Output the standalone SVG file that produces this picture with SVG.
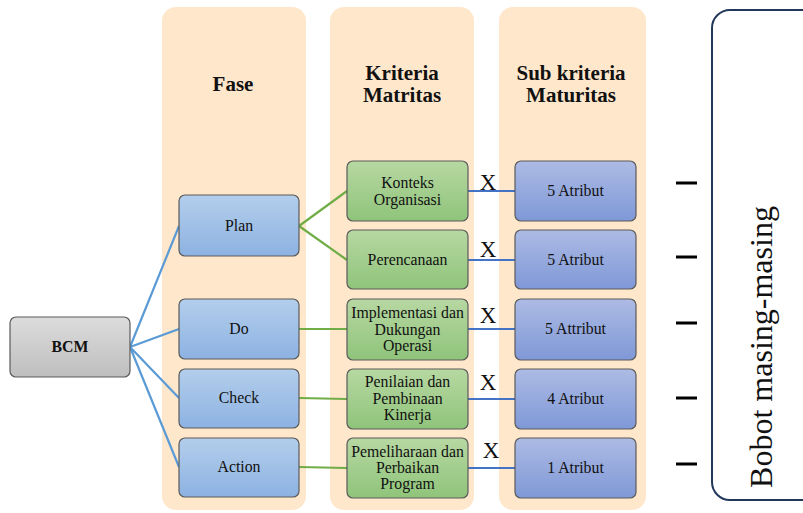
<svg xmlns="http://www.w3.org/2000/svg" width="803" height="513" viewBox="0 0 803 513">
  <defs>
    <linearGradient id="gGray" x1="0" y1="0" x2="0" y2="1">
      <stop offset="0" stop-color="#DCDCDC"/>
      <stop offset="1" stop-color="#BEBEBE"/>
    </linearGradient>
    <linearGradient id="gBlue" x1="0" y1="0" x2="0" y2="1">
      <stop offset="0" stop-color="#B3CEEB"/>
      <stop offset="1" stop-color="#8DB2E2"/>
    </linearGradient>
    <linearGradient id="gGreen" x1="0" y1="0" x2="0" y2="1">
      <stop offset="0" stop-color="#B7D8A2"/>
      <stop offset="1" stop-color="#8FC47A"/>
    </linearGradient>
    <linearGradient id="gPurple" x1="0" y1="0" x2="0" y2="1">
      <stop offset="0" stop-color="#ADBBE4"/>
      <stop offset="1" stop-color="#7F98D7"/>
    </linearGradient>
    <style>
      .col { fill: #FFE7CC; }
      .box { stroke: #5A5A5A; stroke-width: 1.2; }
      .gray { fill: url(#gGray); }
      .blue { fill: url(#gBlue); }
      .green { fill: url(#gGreen); }
      .purple { fill: url(#gPurple); }
      text { font-family: "Liberation Serif", "Times New Roman", serif; fill: #111; text-anchor: middle; }
      .hdr { font-size: 21px; font-weight: bold; }
      .lbl { font-size: 15.8px; }
      .x { font-size: 23px; }
      .c-bcm { stroke: #5B9BD5; stroke-width: 2.2; fill: none; }
      .c-fase { stroke: #70AD47; stroke-width: 2.2; fill: none; }
      .c-sub { stroke: #4472C4; stroke-width: 2.2; fill: none; }
      .dash { stroke: #000; stroke-width: 3; }
    </style>
  </defs>

  <!-- column backgrounds -->
  <g id="columns">
    <rect class="col" x="162" y="7" width="144" height="503" rx="14"/>
    <rect class="col" x="330" y="7" width="144" height="503" rx="14"/>
    <rect class="col" x="499" y="7" width="147" height="503" rx="14"/>
  </g>

  <!-- column headers -->
  <g id="headers">
    <text class="hdr" x="233" y="91">Fase</text>
    <text class="hdr" x="402" y="80">Kriteria</text>
    <text class="hdr" x="402" y="102">Matritas</text>
    <text class="hdr" x="571" y="80">Sub kriteria</text>
    <text class="hdr" x="571" y="102">Maturitas</text>
  </g>

  <!-- connectors -->
  <g id="connectors">
    <path class="c-bcm" d="M130 347 L179 226 M130 347 L179 329 M130 347 L179 398 M130 347 L179 467"/>
    <path class="c-fase" d="M299 226 L347 191 M299 226 L347 260 M299 329 L347 329 M299 398 L347 399 M299 467 L347 468"/>
    <path class="c-sub" d="M468 191 L515 191 M468 260 L515 260 M468 329 L515 329 M468 399 L515 399 M468 468 L515 468"/>
    <text class="x" x="488" y="190">X</text>
    <text class="x" x="488" y="257">X</text>
    <text class="x" x="488" y="323">X</text>
    <text class="x" x="488" y="390">X</text>
    <text class="x" x="491" y="458">X</text>
  </g>

  <g id="bcm">
    <rect class="box gray" x="10" y="317" width="120" height="60" rx="6"/>
    <text class="lbl" x="70" y="352" font-weight="bold">BCM</text>
  </g>

  <g id="plan">
    <rect class="box blue" x="179" y="195" width="120" height="61" rx="6"/>
    <text class="lbl" x="239" y="231">Plan</text>
  </g>
  <g id="do">
    <rect class="box blue" x="179" y="299" width="120" height="60" rx="6"/>
    <text class="lbl" x="239" y="334">Do</text>
  </g>
  <g id="check">
    <rect class="box blue" x="179" y="369" width="120" height="59" rx="6"/>
    <text class="lbl" x="239" y="403">Check</text>
  </g>
  <g id="action">
    <rect class="box blue" x="179" y="438" width="120" height="59" rx="6"/>
    <text class="lbl" x="239" y="472">Action</text>
  </g>

  <g id="konteks">
    <rect class="box green" x="347" y="161" width="121" height="60" rx="6"/>
    <text class="lbl" x="407.5" y="188">Konteks</text>
    <text class="lbl" x="407.5" y="205">Organisasi</text>
  </g>
  <g id="perencanaan">
    <rect class="box green" x="347" y="230" width="121" height="59" rx="6"/>
    <text class="lbl" x="407.5" y="265">Perencanaan</text>
  </g>
  <g id="implementasi">
    <rect class="box green" x="347" y="299" width="121" height="61" rx="6"/>
    <text class="lbl" x="407.5" y="318">Implementasi dan</text>
    <text class="lbl" x="407.5" y="334.5">Dukungan</text>
    <text class="lbl" x="407.5" y="351">Operasi</text>
  </g>
  <g id="penilaian">
    <rect class="box green" x="347" y="369" width="121" height="60" rx="6"/>
    <text class="lbl" x="407.5" y="387">Penilaian dan</text>
    <text class="lbl" x="407.5" y="403.5">Pembinaan</text>
    <text class="lbl" x="407.5" y="420">Kinerja</text>
  </g>
  <g id="pemeliharaan">
    <rect class="box green" x="347" y="438" width="121" height="60" rx="6"/>
    <text class="lbl" x="407.5" y="457">Pemeliharaan dan</text>
    <text class="lbl" x="407.5" y="473">Perbaikan</text>
    <text class="lbl" x="407.5" y="489">Program</text>
  </g>

  <g id="sub1">
    <rect class="box purple" x="515" y="161" width="121" height="60" rx="6"/>
    <text class="lbl" x="575.5" y="196">5 Atribut</text>
  </g>
  <g id="sub2">
    <rect class="box purple" x="515" y="230" width="121" height="59" rx="6"/>
    <text class="lbl" x="575.5" y="265">5 Atribut</text>
  </g>
  <g id="sub3">
    <rect class="box purple" x="515" y="299" width="121" height="61" rx="6"/>
    <text class="lbl" x="575.5" y="334">5 Attribut</text>
  </g>
  <g id="sub4">
    <rect class="box purple" x="515" y="369" width="121" height="60" rx="6"/>
    <text class="lbl" x="575.5" y="404">4 Atribut</text>
  </g>
  <g id="sub5">
    <rect class="box purple" x="515" y="438" width="121" height="60" rx="6"/>
    <text class="lbl" x="575.5" y="473">1 Atribut</text>
  </g>

  <!-- weight markers -->
  <g id="dashes">
    <line class="dash" x1="676" y1="183" x2="697" y2="183"/>
    <line class="dash" x1="676" y1="257" x2="697" y2="257"/>
    <line class="dash" x1="676" y1="323" x2="697" y2="323"/>
    <line class="dash" x1="676" y1="398" x2="697" y2="398"/>
    <line class="dash" x1="676" y1="464" x2="697" y2="464"/>
  </g>

  <g id="bobot">
    <rect x="712" y="10" width="120" height="490" rx="18" fill="none" stroke="#22385A" stroke-width="2"/>
    <text x="0" y="0" font-size="32" transform="translate(772 347) rotate(-90)">Bobot masing-masing</text>
  </g>
</svg>
